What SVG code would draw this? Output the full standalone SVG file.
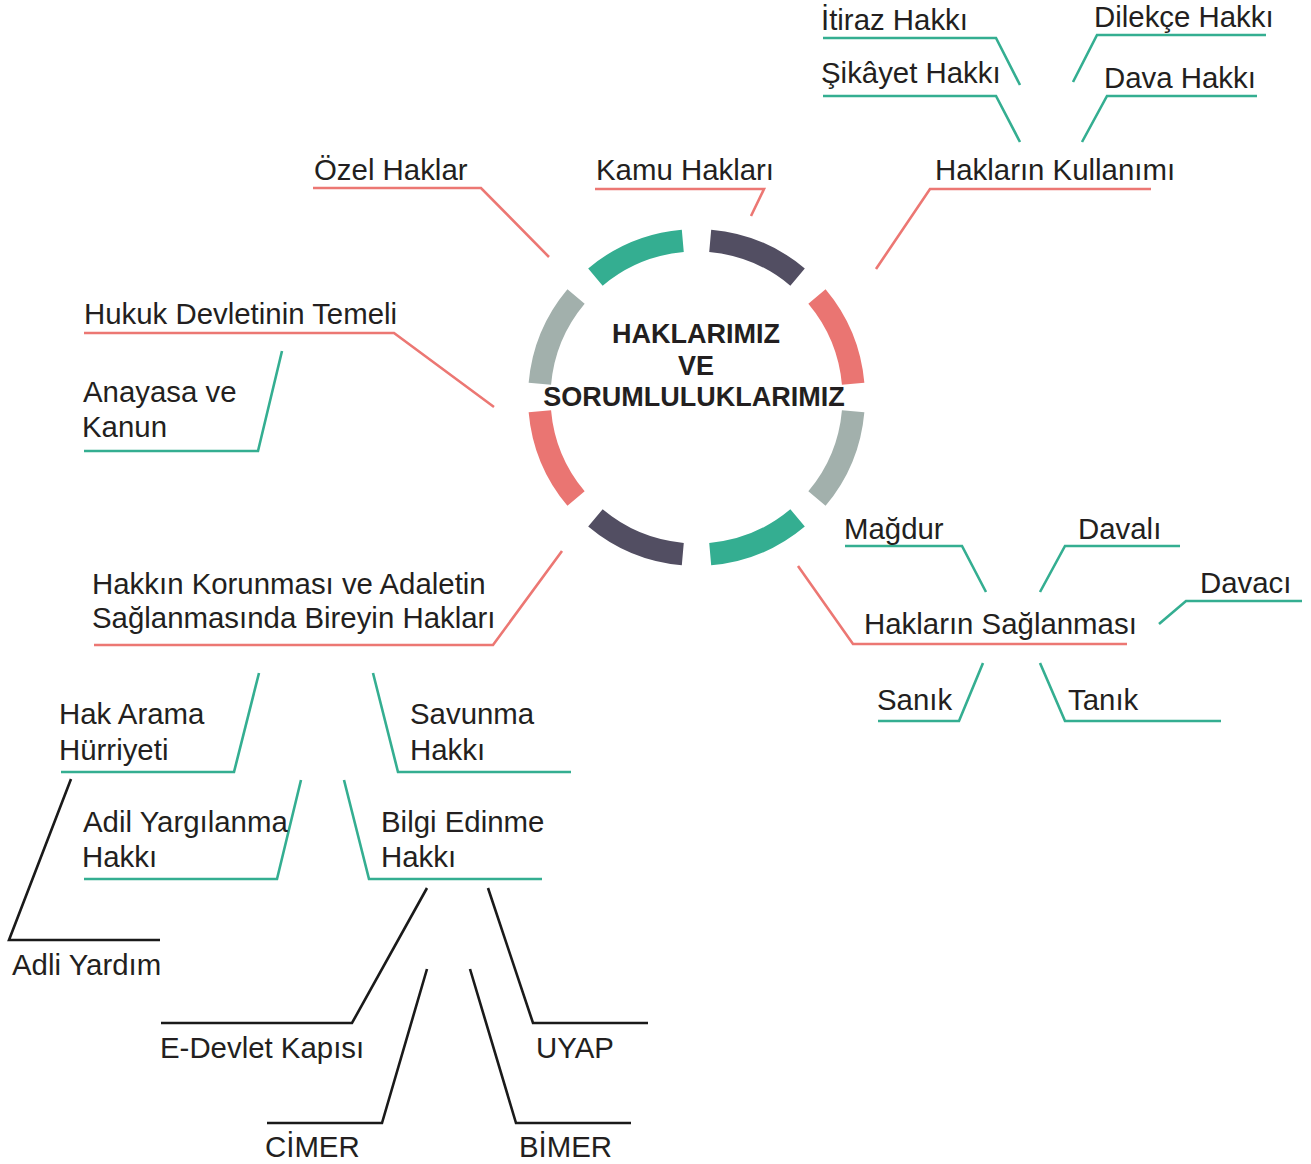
<svg xmlns="http://www.w3.org/2000/svg" width="1311" height="1164" viewBox="0 0 1311 1164">
<style>
  .t { font-family: "Liberation Sans", Arial, sans-serif; font-size: 29.4px; fill: #231F20; }
  .c { font-family: "Liberation Sans", Arial, sans-serif; font-size: 27px; font-weight: bold; fill: #231F20; text-anchor: middle; }
  .seg { fill: none; stroke-width: 22.5; stroke-linecap: butt; }
  .r { fill: none; stroke: #EC7773; stroke-width: 2.6; }
  .g { fill: none; stroke: #34AE91; stroke-width: 2.6; }
  .k { fill: none; stroke: #1A1A1A; stroke-width: 2.6; }
</style>
<rect width="1311" height="1164" fill="#FFFFFF"/>

<g id="center">
  <path class="seg" stroke="#EA7572" d="M816.96,296.42 A157.25,157.25 0 0 1 853.15,383.79"/>
  <path class="seg" stroke="#524E62" d="M710.21,240.85 A157.25,157.25 0 0 1 797.58,277.04"/>
  <path class="seg" stroke="#34AE91" d="M595.42,277.04 A157.25,157.25 0 0 1 682.79,240.85"/>
  <path class="seg" stroke="#A2B0AC" d="M539.85,383.79 A157.25,157.25 0 0 1 576.04,296.42"/>
  <path class="seg" stroke="#EA7572" d="M576.04,498.58 A157.25,157.25 0 0 1 539.85,411.21"/>
  <path class="seg" stroke="#524E62" d="M682.79,554.15 A157.25,157.25 0 0 1 595.42,517.96"/>
  <path class="seg" stroke="#34AE91" d="M797.58,517.96 A157.25,157.25 0 0 1 710.21,554.15"/>
  <path class="seg" stroke="#A2B0AC" d="M853.15,411.21 A157.25,157.25 0 0 1 816.96,498.58"/>
  <text class="c" x="696" y="343">HAKLARIMIZ</text>
  <text class="c" x="696" y="374.5">VE</text>
  <text class="c" x="694" y="406">SORUMLULUKLARIMIZ</text>
</g>

<g id="connectors">
  <polyline class="r" points="313,188 481,188 549,257"/>
  <polyline class="r" points="595,189 764,189 751,216"/>
  <polyline class="r" points="1151,189 930,189 876,269"/>
  <polyline class="r" points="84,333 394,333 494,407"/>
  <polyline class="r" points="94,645 493,645 562,551"/>
  <polyline class="r" points="1127,644 853,644 798,566"/>

  <polyline class="g" points="823,38 996,38 1020,85"/>
  <polyline class="g" points="823,96 996,96 1020,142"/>
  <polyline class="g" points="1073,82 1097,35 1266,35"/>
  <polyline class="g" points="1082,142 1107,96 1257,96"/>
  <polyline class="g" points="84,451 258,451 282,351"/>
  <polyline class="g" points="845,546 962,546 986,592"/>
  <polyline class="g" points="1040,592 1065,546 1180,546"/>
  <polyline class="g" points="1159,624 1186,601 1302,601"/>
  <polyline class="g" points="878,721 959,721 983,663"/>
  <polyline class="g" points="1040,663 1065,721 1221,721"/>
  <polyline class="g" points="61,772 234,772 259,673"/>
  <polyline class="g" points="373,673 398,772 571,772"/>
  <polyline class="g" points="84,879 277,879 301,780"/>
  <polyline class="g" points="344,780 369,879 542,879"/>

  <polyline class="k" points="160,940 9,940 71,779"/>
  <polyline class="k" points="427,888 352,1023 161,1023"/>
  <polyline class="k" points="488,888 533,1023 648,1023"/>
  <polyline class="k" points="427,969 382,1123 267,1123"/>
  <polyline class="k" points="470,969 516,1123 631,1123"/>
</g>

<g id="itiraz"><text class="t" x="821" y="30">İtiraz Hakkı</text></g>
<g id="sikayet"><text class="t" x="821" y="83">Şikâyet Hakkı</text></g>
<g id="dilekce"><text class="t" x="1094" y="27">Dilekçe Hakkı</text></g>
<g id="dava"><text class="t" x="1104" y="88">Dava Hakkı</text></g>
<g id="kullanim"><text class="t" x="935" y="180">Hakların Kullanımı</text></g>
<g id="kamu"><text class="t" x="596" y="180">Kamu Hakları</text></g>
<g id="ozel"><text class="t" x="314" y="180">Özel Haklar</text></g>
<g id="hukuk"><text class="t" x="84" y="324">Hukuk Devletinin Temeli</text></g>
<g id="anayasa"><text class="t" x="83" y="402">Anayasa ve</text><text class="t" x="82" y="437">Kanun</text></g>
<g id="magdur"><text class="t" x="844" y="539">Mağdur</text></g>
<g id="davali"><text class="t" x="1078" y="539">Davalı</text></g>
<g id="davaci"><text class="t" x="1200" y="593">Davacı</text></g>
<g id="saglanma"><text class="t" x="864" y="634">Hakların Sağlanması</text></g>
<g id="sanik"><text class="t" x="877" y="710">Sanık</text></g>
<g id="tanik"><text class="t" x="1068" y="710">Tanık</text></g>
<g id="korunma"><text class="t" x="92" y="594">Hakkın Korunması ve Adaletin</text><text class="t" x="92" y="628">Sağlanmasında Bireyin Hakları</text></g>
<g id="hakarama"><text class="t" x="59" y="724">Hak Arama</text><text class="t" x="59" y="760">Hürriyeti</text></g>
<g id="savunma"><text class="t" x="410" y="724">Savunma</text><text class="t" x="410" y="760">Hakkı</text></g>
<g id="adil"><text class="t" x="83" y="832">Adil Yargılanma</text><text class="t" x="82" y="867">Hakkı</text></g>
<g id="bilgi"><text class="t" x="381" y="832">Bilgi Edinme</text><text class="t" x="381" y="867">Hakkı</text></g>
<g id="adliyardim"><text class="t" x="12" y="975">Adli Yardım</text></g>
<g id="edevlet"><text class="t" x="160" y="1058">E-Devlet Kapısı</text></g>
<g id="uyap"><text class="t" x="536" y="1058">UYAP</text></g>
<g id="cimer"><text class="t" x="265" y="1157">CİMER</text></g>
<g id="bimer"><text class="t" x="519" y="1157">BİMER</text></g>
</svg>
